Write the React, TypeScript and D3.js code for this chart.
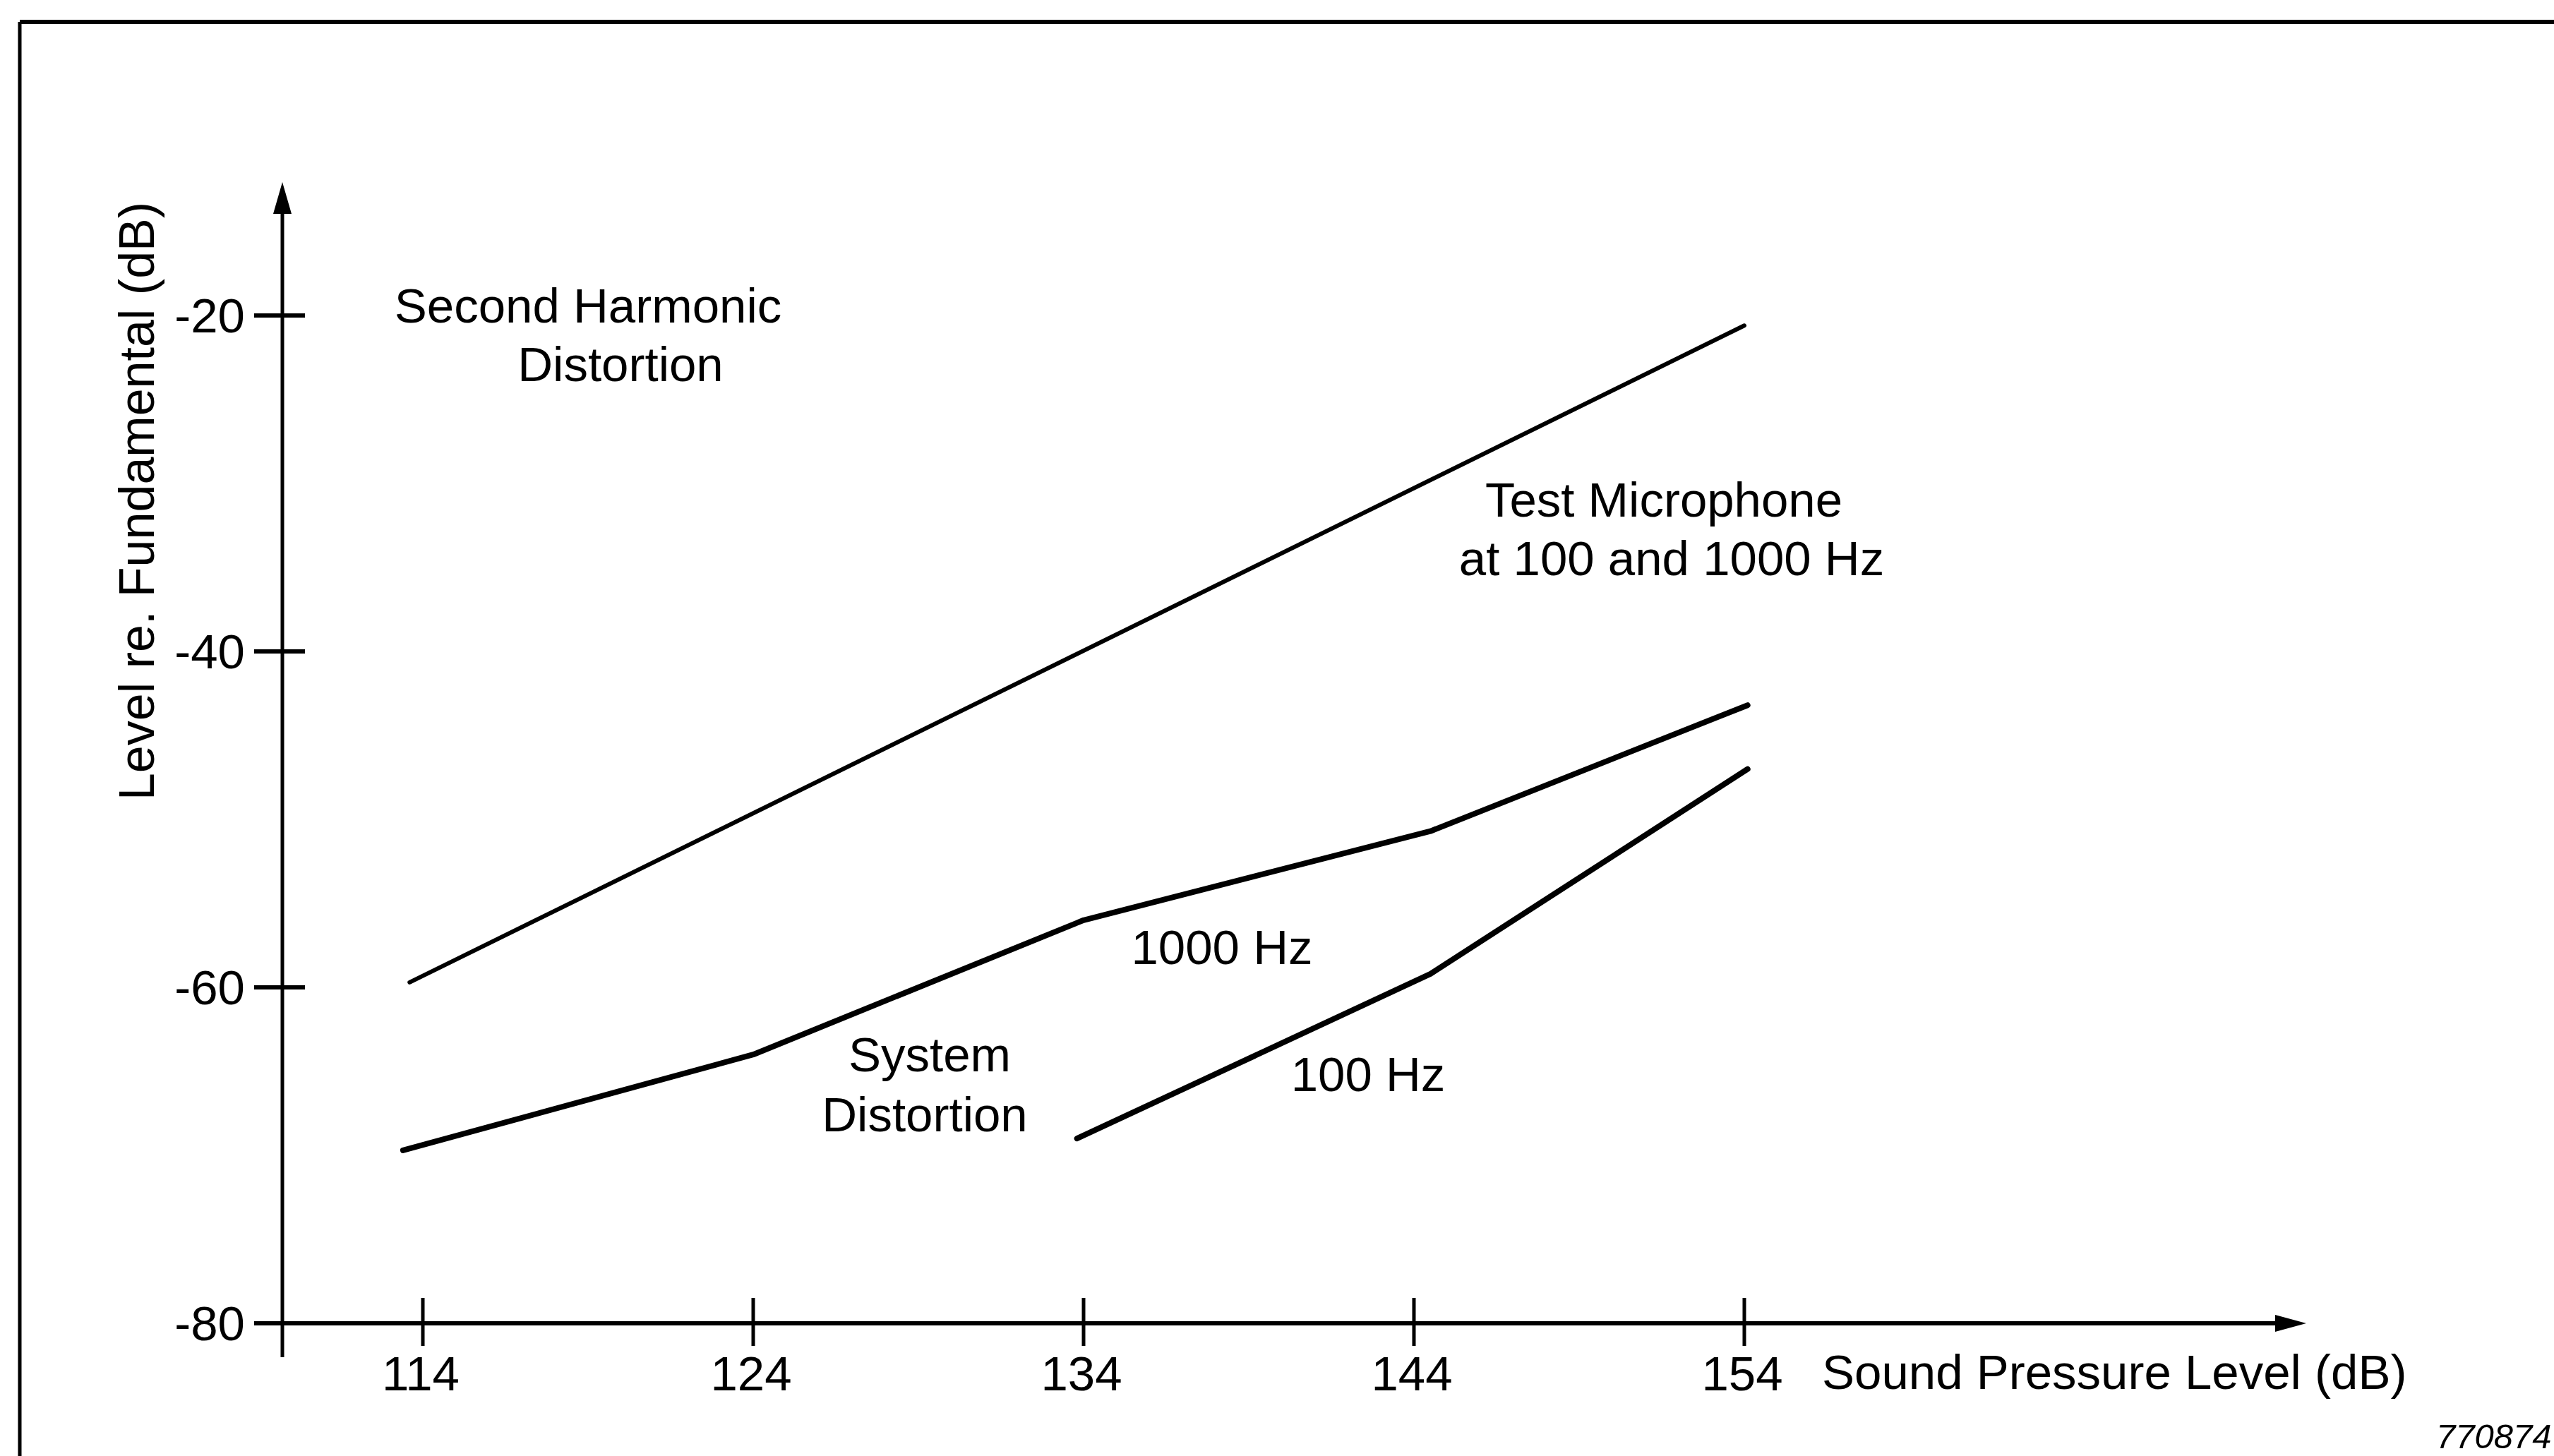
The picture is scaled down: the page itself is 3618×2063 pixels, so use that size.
import React from "react";
import * as d3 from "d3";

// ---- data ----
const splTicks = [114, 124, 134, 144, 154];
const levelTicks = [-20, -40, -60, -80];

const testMicX = [113.6, 154.0];
const testMicY = [-59.7, -20.6];

const sys1000X = [113.4, 124, 134, 144.5, 154.1];
const sys1000Y = [-69.7, -64.0, -56.0, -50.7, -43.2];

const sys100X = [133.8, 144.5, 154.1];
const sys100Y = [-69.0, -59.2, -47.0];

const xAxisTitle = "Sound Pressure Level (dB)";
const yAxisTitle = "Level re. Fundamental (dB)";
const figureId = "770874";

const W = 3618;
const H = 2063;
const FONT = "'Liberation Sans', Arial, Helvetica, sans-serif";

export default function App() {
  const x = d3.scaleLinear().domain([114, 154]).range([599, 2471]);
  const y = d3.scaleLinear().domain([-20, -80]).range([447, 1875]);

  const line = d3
    .line<[number, number]>()
    .x((d) => x(d[0]))
    .y((d) => y(d[1]))
    .curve(d3.curveLinear);

  const zip = (a: number[], b: number[]) => a.map((v, i) => [v, b[i]] as [number, number]);

  const axisX = x(114) - 199; // y-axis position (≈400)
  const axisY = y(-80); // x-axis position
  const yTop = 258;
  const xRight = 3267;

  const fs = 69;

  return (
    <svg
      width={W}
      height={H}
      viewBox={`0 0 ${W} ${H}`}
      style={{ position: "absolute", left: 0, top: 0, background: "#fff" }}
      fontFamily={FONT}
    >
      <rect x={0} y={0} width={W} height={H} fill="#fff" />
      {/* frame */}
      <line x1={28} y1={31} x2={W} y2={31} stroke="#000" strokeWidth={6} />
      <line x1={28} y1={31} x2={28} y2={H} stroke="#000" strokeWidth={5} />

      {/* y axis */}
      <line x1={axisX} y1={axisY + 48} x2={axisX} y2={yTop + 30} stroke="#000" strokeWidth={5} />
      <path
        d={`M${axisX},${yTop} L${axisX - 13},${yTop + 45} L${axisX + 13},${yTop + 45} Z`}
        fill="#000"
      />
      {/* x axis */}
      <line x1={axisX - 36} y1={axisY} x2={xRight - 30} y2={axisY} stroke="#000" strokeWidth={6} />
      <path
        d={`M${xRight},${axisY} L${xRight - 44},${axisY - 12} L${xRight - 44},${axisY + 12} Z`}
        fill="#000"
      />

      {/* y ticks */}
      {levelTicks.map((t) => (
        <g key={"y" + t}>
          <line
            x1={axisX - 40}
            x2={t === -80 ? axisX : axisX + 32}
            y1={y(t)}
            y2={y(t)}
            stroke="#000"
            strokeWidth={6}
          />
          <text
            x={axisX - 53}
            y={y(t)}
            textAnchor="end"
            dominantBaseline="central"
            fontSize={fs}
            fill="#000"
          >
            {t}
          </text>
        </g>
      ))}

      {/* x ticks */}
      {splTicks.map((t) => (
        <g key={"x" + t}>
          <line x1={x(t)} x2={x(t)} y1={axisY - 36} y2={axisY + 32} stroke="#000" strokeWidth={5} />
          <text x={x(t) - 3} y={1970} textAnchor="middle" fontSize={fs} fill="#000">
            {t}
          </text>
        </g>
      ))}

      {/* axis titles */}
      <text x={2581} y={1968} fontSize={fs} fill="#000">
        {xAxisTitle}
      </text>
      <text
        transform={`translate(218, 710) rotate(-90)`}
        textAnchor="middle"
        fontSize={70}
        fill="#000"
      >
        {yAxisTitle}
      </text>

      {/* curves */}
      <path d={line(zip(testMicX, testMicY)) || ""} fill="none" stroke="#000" strokeWidth={6} strokeLinecap="round" strokeLinejoin="round" />
      <path d={line(zip(sys1000X, sys1000Y)) || ""} fill="none" stroke="#000" strokeWidth={8} strokeLinecap="round" strokeLinejoin="round" />
      <path d={line(zip(sys100X, sys100Y)) || ""} fill="none" stroke="#000" strokeWidth={8} strokeLinecap="round" strokeLinejoin="round" />

      {/* annotations */}
      <g fontSize={fs} fill="#000" textAnchor="middle">
        <text x={833} y={457}>Second Harmonic</text>
        <text x={879} y={540}>Distortion</text>
        <text x={2357} y={732}>Test Microphone</text>
        <text x={2368} y={815}>at 100 and 1000 Hz</text>
        <text x={1731} y={1366}>1000 Hz</text>
        <text x={1938} y={1546}>100 Hz</text>
        <text x={1317} y={1518}>System</text>
        <text x={1310} y={1603}>Distortion</text>
      </g>

      <text x={3451} y={2052} fontSize={49} fontStyle="italic" fill="#000">
        {figureId}
      </text>
    </svg>
  );
}
